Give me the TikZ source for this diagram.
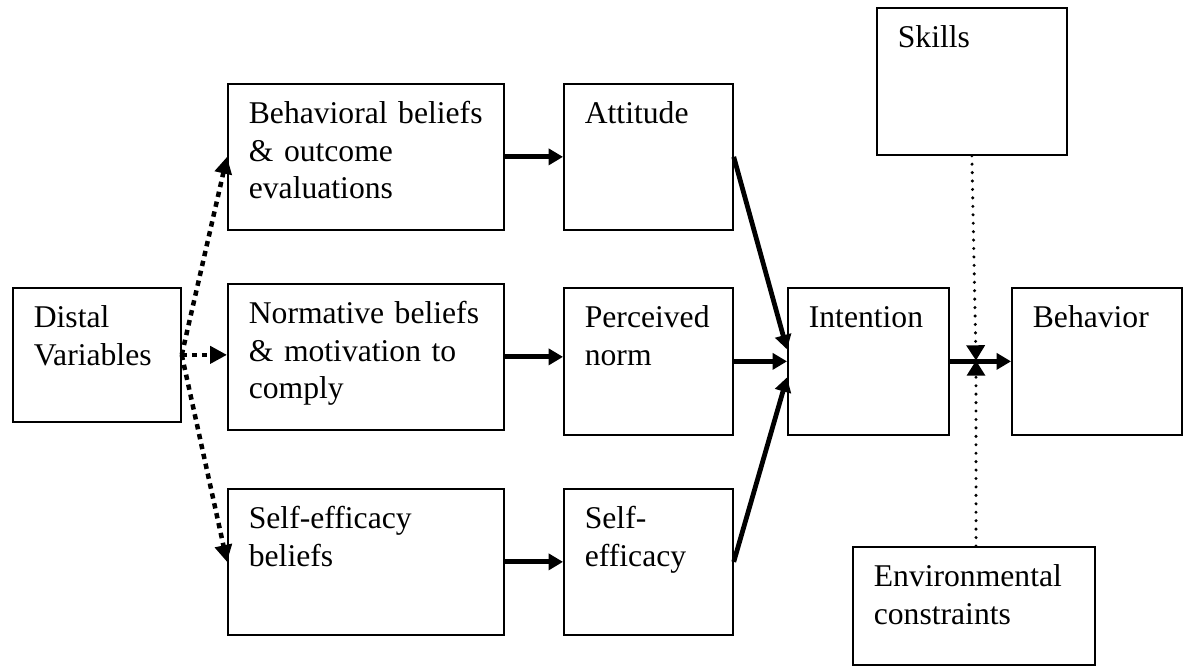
\documentclass[tikz,border=0pt]{standalone}
\usepackage{fontspec}
\setmainfont{Liberation Serif}
\usetikzlibrary{arrows.meta}
\tikzset{
  blk/.style 2 args={draw, line width=1.2pt, anchor=north west, inner xsep=0.525cm, inner ysep=0pt,
    text width=#1, text height=1cm, text depth=#2, align=left, font=\fontsize{22.5}{26.5}\selectfont},
  link/.style={line width=3.4pt, -{Triangle[length=0.36cm,width=0.4cm]}},
  distal/.style={line width=3.2pt, dash pattern=on 3.8pt off 3.4pt, -{Triangle[length=0.42cm,width=0.42cm]}},
  moder/.style={line width=2.4pt, line cap=round, dash pattern=on 0pt off 6pt, -{Triangle[length=0.38cm,width=0.45cm]}}
}
\begin{document}
\begin{tikzpicture}[x=0.025cm,y=-0.025cm]
	  \useasboundingbox (0,0) rectangle (1183,666);
	  % boxes
	  \node[blk={3.15cm}{2.35cm}] (dist) at (12,287) {Distal\\Variables};
	  \node[blk={5.85cm}{2.65cm}] (beh) at (227,83) {Behavioral beliefs\\\& outcome\\evaluations};
	  \node[blk={5.85cm}{2.65cm}] (nbel) at (227,283) {Normative beliefs\\\& motivation to\\comply};
	  \node[blk={5.85cm}{2.65cm}] (sbel) at (227,488) {Self-efficacy\\beliefs};
	  \node[blk={3.175cm}{2.65cm}] (att) at (563,83) {Attitude};
	  \node[blk={3.175cm}{2.675cm}] (pnorm) at (563,287) {Perceived\\norm};
	  \node[blk={3.175cm}{2.65cm}] (seff) at (563,488) {Self-\\efficacy};
	  \node[blk={2.975cm}{2.675cm}] (int) at (787,287) {Intention};
	  \node[blk={3.2cm}{2.675cm}] (behv) at (1011,287) {Behavior};
	  \node[blk={3.7cm}{2.675cm}] (skl) at (876,7) {Skills};
	  \node[blk={5.0cm}{1.95cm}] (env) at (852,546) {Environmental\\constraints};
	  \coordinate (m) at (976,360.5);
	  % distal variables
	  \draw[distal] (dist.east) -- (beh.west);
	  \draw[distal] (dist.east) -- (dist.east -| nbel.west);
	  \draw[distal] (dist.east) -- (sbel.west);
	  % beliefs to determinants
	  \draw[link] (beh) -- (att);
	  \draw[link] (nbel.east) -- (nbel.east -| pnorm.west);
	  \draw[link] (sbel) -- (seff);
	  % determinants to intention
	  \draw[link] (att.east) -- ([yshift=0.3cm]int.west);
	  \draw[link] (pnorm) -- (int);
	  \draw[link] (seff.east) -- ([yshift=-0.4cm]int.west);
	  % intention to behavior
	  \draw[link] (int) -- (behv);
	  \draw[moder] (skl.south) -- (m);
	  \draw[moder] (env.north -| m) -- (m);
	\end{tikzpicture}
\end{document}
